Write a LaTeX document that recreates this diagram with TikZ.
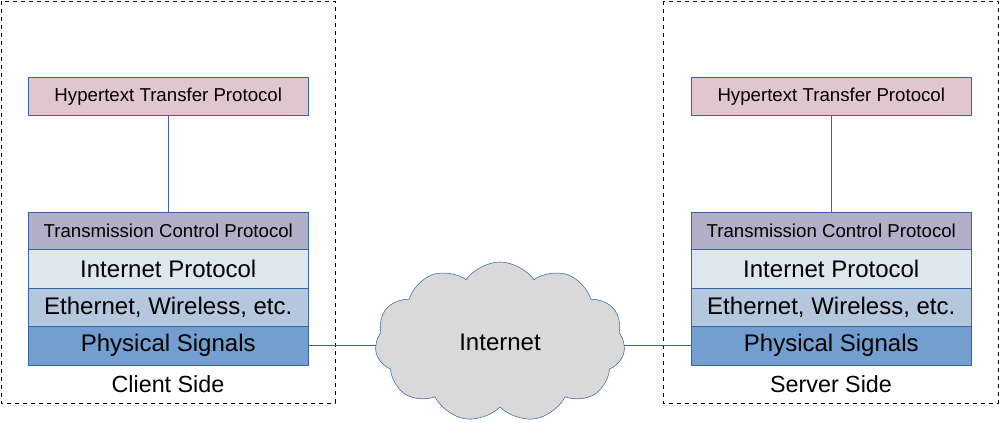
\documentclass[tikz,border=0pt]{standalone}
\usepackage{fontspec}
\setmainfont{Liberation Sans}
\usetikzlibrary{shapes.symbols}
\definecolor{linkblue}{HTML}{3465A4}
\definecolor{httpfill}{HTML}{E2C6CF}
\definecolor{tcpfill}{HTML}{B4AFC9}
\definecolor{ipfill}{HTML}{DEE6EF}
\definecolor{ethfill}{HTML}{B4C7DC}
\definecolor{physfill}{HTML}{729FCF}
\begin{document}
\begin{tikzpicture}[x=0.75pt,y=-0.75pt,
    layer/.style={draw=linkblue,minimum width=280*0.75pt,inner sep=0pt,anchor=north west},
    side/.style={draw,dashed,thin},
    wire/.style={draw=linkblue}]
\useasboundingbox (0,0) rectangle (999,423);

	% client and server frames
	\draw[side] (1,1) rectangle (335,403);
	\draw[side] (663,1) rectangle (998,403);

\foreach \x/\s/\side in {28/c/Client Side,691/s/Server Side} {
	\node[layer,fill=httpfill,minimum height=38*0.75pt,font=\fontsize{14}{16}\selectfont] (http\s) at (\x,77) {Hypertext Transfer Protocol};
	\node[layer,fill=tcpfill,minimum height=37*0.75pt,font=\fontsize{14}{16}\selectfont] (tcp\s) at (\x,212) {Transmission Control Protocol};
	\node[layer,fill=ipfill,minimum height=39*0.75pt,font=\fontsize{18}{20}\selectfont] (ip\s) at (\x,249) {Internet Protocol};
	\node[layer,fill=ethfill,minimum height=38*0.75pt,font=\fontsize{18}{20}\selectfont] (eth\s) at (\x,288) {Ethernet, Wireless, etc.};
	\node[layer,fill=physfill,minimum height=39*0.75pt,font=\fontsize{18}{20}\selectfont] (phys\s) at (\x,326) {Physical Signals};
	\node[font=\fontsize{17.5}{19}\selectfont] (label\s) at (\x+140,384) {\side};
	\draw[wire] (http\s) -- (tcp\s);
}

	% the network in between
	\node[cloud,cloud puffs=11,cloud puff arc=110,aspect=1.5,draw=linkblue,fill=gray!30,
	  minimum width=250*0.75pt,minimum height=160*0.75pt,inner sep=0pt,
	  font=\fontsize{18}{20}\selectfont] (net) at (500,342) {Internet};
	\draw[wire] (physc.east) -- (physc.east -| net.west);
	\draw[wire] (physs.west -| net.east) -- (physs.west);

\end{tikzpicture}
\end{document}
